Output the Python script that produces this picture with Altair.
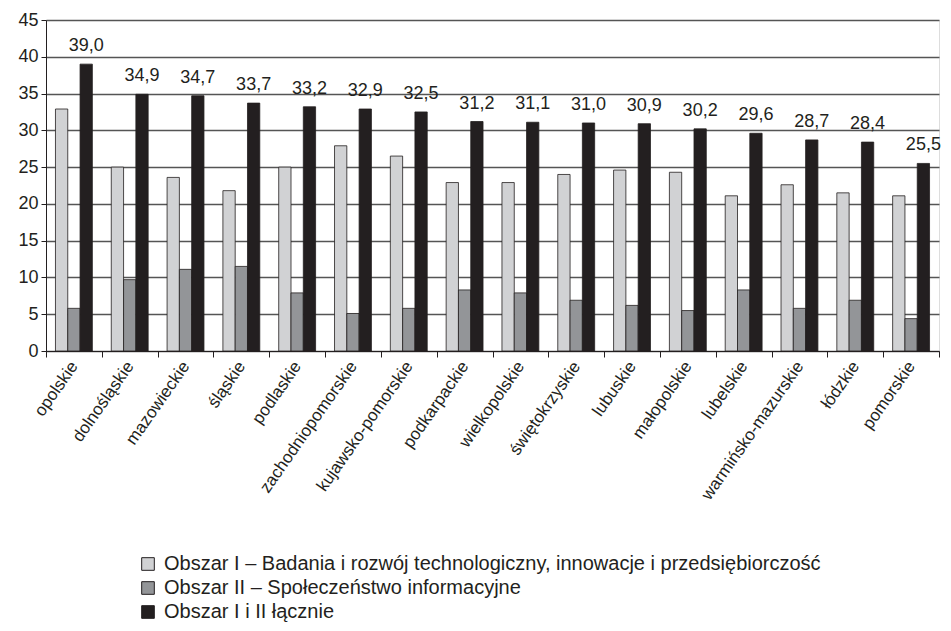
import altair as alt
import pandas as pd

regions = ["opolskie", "dolnośląskie", "mazowieckie", "śląskie", "podlaskie",
           "zachodniopomorskie", "kujawsko-pomorskie", "podkarpackie", "wielkopolskie",
           "świętokrzyskie", "lubuskie", "małopolskie", "lubelskie",
           "warmińsko-mazurskie", "łódzkie", "pomorskie"]
obszar1 = [32.9, 25.0, 23.6, 21.8, 25.0, 27.9, 26.5, 22.9, 22.9, 24.0, 24.6, 24.3, 21.1, 22.6, 21.5, 21.1]
obszar2 = [5.8, 9.7, 11.1, 11.5, 7.9, 5.1, 5.8, 8.3, 7.9, 6.9, 6.2, 5.5, 8.3, 5.8, 6.9, 4.4]
lacznie = [39.0, 34.9, 34.7, 33.7, 33.2, 32.9, 32.5, 31.2, 31.1, 31.0, 30.9, 30.2, 29.6, 28.7, 28.4, 25.5]
series = ["Obszar I – Badania i rozwój technologiczny, innowacje i przedsiębiorczość",
          "Obszar II – Społeczeństwo informacyjne",
          "Obszar I i II łącznie"]
colors = ["#d1d2d4", "#939598", "#231f20"]

rows = []
for i, r in enumerate(regions):
    for s, vals in zip(series, [obszar1, obszar2, lacznie]):
        rows.append({"region": r, "series": s, "value": vals[i]})
df = pd.DataFrame(rows)
lab = pd.DataFrame({"region": regions, "series": series[2], "value": lacznie,
                    "label": [f"{v:.1f}".replace(".", ",") for v in lacznie]})

FONT = "Liberation Sans"
TXT = "#231f20"

x = alt.X("region:N", sort=regions, title=None,
          scale=alt.Scale(paddingInner=0, paddingOuter=0),
          axis=alt.Axis(labelAngle=-55, labelFontSize=17, labelFont=FONT, labelColor=TXT,
                        labelAlign="right", labelBaseline="middle",
                        tickBand="extent", tickSize=6, tickColor=TXT, domainColor=TXT,
                        labelPadding=6, labelLimit=300))
xo = alt.XOffset("series:N", sort=series,
                 scale=alt.Scale(domain=series, paddingInner=0, paddingOuter=0.77))
y = alt.Y("value:Q", title=None,
          scale=alt.Scale(domain=[0, 45], nice=False),
          axis=alt.Axis(values=list(range(0, 46, 5)), grid=True, gridColor="#555555",
                        gridWidth=1.3, domainColor=TXT, tickColor=TXT, tickSize=5,
                        labelFontSize=18, labelFont=FONT, labelColor=TXT, labelPadding=3,
                        labelOverlap=False))

bars = alt.Chart(df).mark_bar(stroke=TXT, strokeWidth=0.8).encode(
    x=x, xOffset=xo, y=y,
    color=alt.Color("series:N", sort=series,
                    scale=alt.Scale(domain=series, range=colors),
                    legend=alt.Legend(title=None, orient="none", legendX=92, legendY=534,
                                      symbolType="square", symbolSize=160,
                                      symbolStrokeColor=TXT, symbolStrokeWidth=1,
                                      labelFontSize=20, labelFont=FONT, labelColor=TXT,
                                      labelLimit=900, rowPadding=4, labelOffset=6))
)

texts = alt.Chart(lab).mark_text(dy=-13, fontSize=18, font=FONT, color=TXT, baseline="alphabetic").encode(
    x=x, xOffset=xo, y=y,
    text="label:N",
)

chart = alt.layer(bars, texts).properties(
    width=893, height=331,
    autosize=alt.AutoSizeParams(type="none"),
    padding={"left": 38, "top": 12, "right": 4, "bottom": 274},
).configure_view(stroke=None).configure(background="white")

chart.save("out.html", embed_options={"renderer": "svg", "actions": False})
